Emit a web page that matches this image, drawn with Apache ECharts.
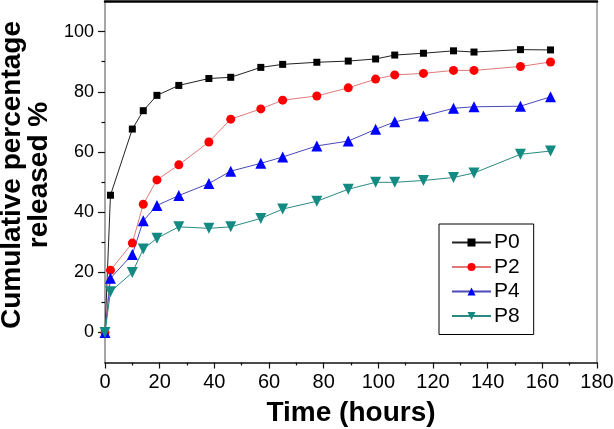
<!DOCTYPE html>
<html>
<head>
<meta charset="utf-8">
<script src="https://cdn.jsdelivr.net/npm/echarts@6/dist/echarts.min.js"></script>
<style>
html,body{margin:0;padding:0;background:#fff;}
#chart{width:614px;height:429px;}
</style>
</head>
<body>
<div id="chart"></div>
<script>
// ---- data ----
const hours = [0, 2, 10, 14, 19, 27, 38, 46, 57, 65, 77.5, 89, 99, 106, 116.5, 127.5, 135, 152, 163];
const p0 = [0, 45.6, 67.6, 73.7, 78.8, 82.1, 84.4, 84.8, 88.1, 89.1, 89.8, 90.2, 90.9, 92.2, 92.8, 93.6, 93.2, 94.0, 93.9];
const p2 = [0, 20.7, 29.7, 42.6, 50.7, 55.7, 63.3, 70.9, 74.3, 77.2, 78.6, 81.3, 84.2, 85.6, 86.1, 87.1, 87.1, 88.4, 89.9];
const p4 = [0, 18.0, 25.9, 37.1, 42.2, 45.5, 49.5, 53.6, 56.2, 58.3, 62.0, 63.6, 67.5, 70.0, 71.9, 74.5, 75.0, 75.2, 78.3];
const p8 = [0, 13.5, 19.9, 27.7, 31.3, 35.1, 34.6, 35.1, 37.9, 41.0, 43.6, 47.6, 49.9, 49.9, 50.5, 51.5, 53.0, 59.2, 60.3];
const seriesNames = ['P0', 'P2', 'P4', 'P8'];
const yTickValues = [0, 20, 40, 60, 80, 100];
const yMinorTickValues = [10, 30, 50, 70, 90];
const xTitle = 'Time (hours)';
const yTitle = 'Cumulative percentage\nreleased %';

const font = 'Liberation Sans, Arial, Helvetica, sans-serif';
function pairs(xs, ys) { return xs.map((x, i) => [x, ys[i]]); }

const chart = echarts.init(document.getElementById('chart'), null, {renderer: 'canvas'});
const option = {
  backgroundColor: '#fff',
  animation: false,
  grid: {left: 105, right: 17, top: 1.5, bottom: 66.5, containLabel: false, outerBoundsMode: 'none'},
  legend: {
    orient: 'vertical',
    left: 439, top: 224,
    width: 98,
    padding: [8, 14, 8, 12],
    itemGap: 3.5,
    itemWidth: 39,
    itemHeight: 10,
    borderColor: '#000',
    borderWidth: 1,
    backgroundColor: '#fff',
    textStyle: {fontFamily: font, fontSize: 21, color: '#000', padding: [0, 0, 0, -2]},
    data: seriesNames
  },
  xAxis: [{
    type: 'value', min: 0, max: 180, interval: 20,
    name: xTitle, nameLocation: 'middle', nameGap: 37,
    nameTextStyle: {fontFamily: font, fontSize: 28, fontWeight: 'bold', color: '#000'},
    axisLine: {show: true, onZero: false, lineStyle: {color: '#111', width: 1.5}},
    axisTick: {show: true, inside: false, length: 6, lineStyle: {color: '#111', width: 1.2}},
    minorTick: {show: true, splitNumber: 2, length: 3, lineStyle: {color: '#111', width: 1.2}},
    axisLabel: {fontFamily: font, fontSize: 20, color: '#000', margin: 10},
    splitLine: {show: false}
  }, {
    type: 'value', position: 'top', min: 0, max: 180,
    axisLine: {show: true, onZero: false, lineStyle: {color: '#000', width: 2.5}},
    axisTick: {show: false}, axisLabel: {show: false}, splitLine: {show: false}
  }],
  yAxis: [{
    type: 'value', min: -10, max: 110,
    name: yTitle, nameLocation: 'middle', nameGap: 46.5, nameRotate: 90,
    nameTextStyle: {fontFamily: font, fontSize: 28, fontWeight: 'bold', color: '#000', lineHeight: 27, align: 'center', padding: [0, 0, 0, 14]},
    axisLine: {show: true, onZero: false, lineStyle: {color: '#888', width: 1.5}},
    axisTick: {show: true, inside: false, length: 7, customValues: yTickValues, lineStyle: {color: '#111', width: 1.2}},
    axisLabel: {fontFamily: font, fontSize: 18, color: '#000', margin: 11, customValues: yTickValues},
    splitLine: {show: false}
  }, {
    type: 'value', min: -10, max: 110, position: 'left',
    axisLine: {show: false},
    axisTick: {show: true, inside: false, length: 3.5, customValues: yMinorTickValues, lineStyle: {color: '#111', width: 1.2}},
    axisLabel: {show: false},
    splitLine: {show: false}
  }, {
    type: 'value', min: -10, max: 110, position: 'right',
    axisLine: {show: true, onZero: false, lineStyle: {color: '#999', width: 1.5}},
    axisTick: {show: false}, axisLabel: {show: false}, splitLine: {show: false}
  }],
  series: [
    {name: 'P0', type: 'line', data: pairs(hours, p0), symbol: 'rect', symbolSize: 7,
     itemStyle: {color: '#000'}, lineStyle: {color: '#222', width: 1}},
    {name: 'P2', type: 'line', data: pairs(hours, p2), symbol: 'circle', symbolSize: 9,
     itemStyle: {color: '#ff0000'}, lineStyle: {color: '#e07a7a', width: 1}},
    {name: 'P4', type: 'line', data: pairs(hours, p4), symbol: 'triangle', symbolSize: 11,
     itemStyle: {color: '#0000ff'}, lineStyle: {color: '#4a4ab8', width: 1}},
    {name: 'P8', type: 'line', data: pairs(hours, p8), symbol: 'triangle', symbolRotate: 180, symbolSize: 11,
     itemStyle: {color: '#138a82'}, lineStyle: {color: '#2a8a82', width: 1}}
  ]
};
chart.setOption(option);
</script>
</body>
</html>
